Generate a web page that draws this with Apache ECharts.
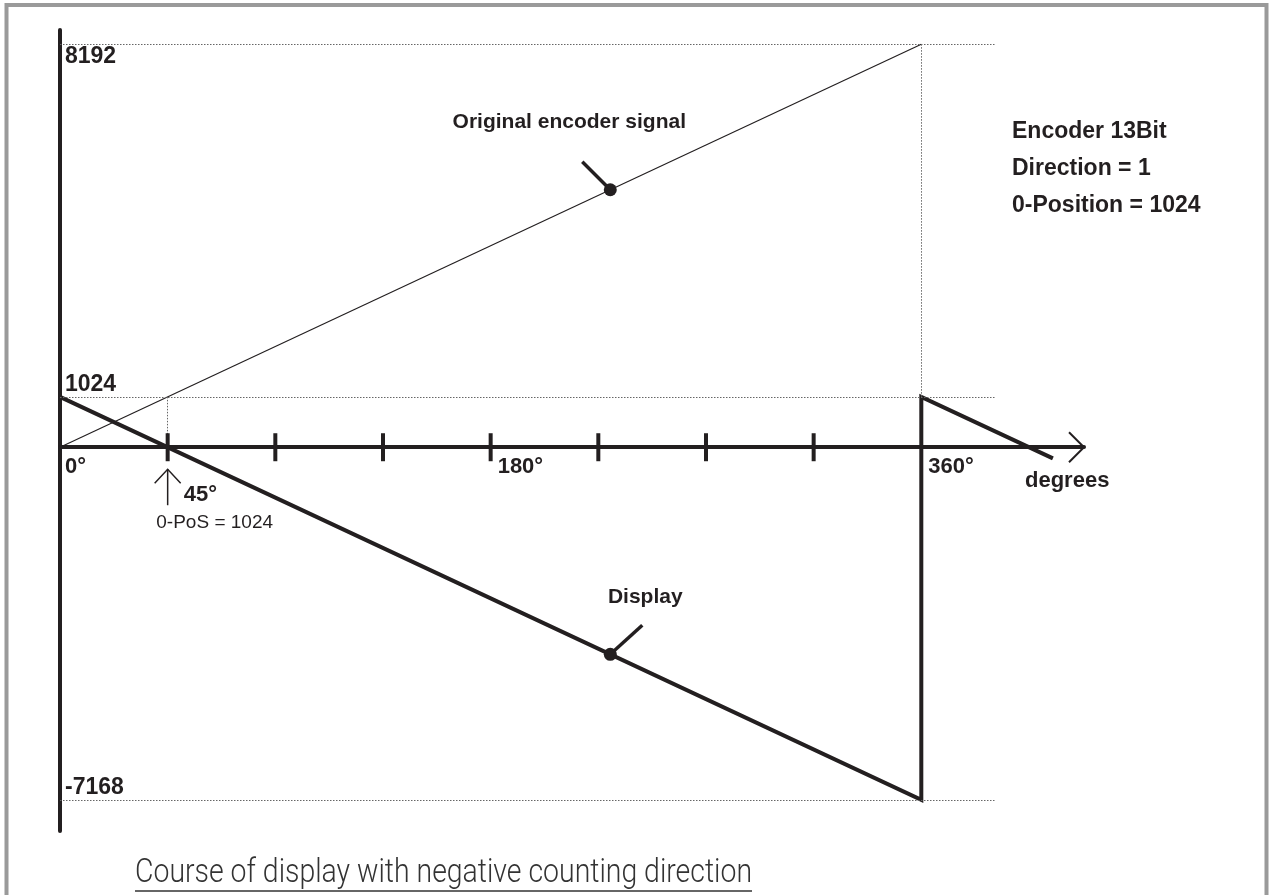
<!DOCTYPE html>
<html><head><meta charset="utf-8">
<script src="https://cdn.jsdelivr.net/npm/echarts@6/dist/echarts.min.js"></script>
<style>html,body{margin:0;padding:0;background:#fff}#c{width:1270px;height:895px}</style>
</head><body><div id="c"></div>
<script>
// ---- data ----
const originalSignal = [[0, 0], [360, 8192]];
const displayValues = [[0, 1024], [360, -7168], [360, 1024], [415, -227]];
const refLevels = [8192, 1024, -7168];
const refLabels = ['8192', '1024', '-7168'];
const guideEnd = 391;
const tickAngles = [45, 90, 135, 180, 225, 270, 315];
const labelAngles = [0, 180, 360];
const axisEnd = 428;
const markerPoints = [[230, 5233], [230, -4209]];
const seriesNames = ['Original encoder signal', 'Display'];
const zeroPos = [45, 0];
const zeroPosText = ['45°', '0-PoS = 1024'];
const infoLines = ['Encoder 13Bit', 'Direction = 1', '0-Position = 1024'];
const xName = 'degrees';
const caption = 'Course of display with negative counting direction';

const INK = '#231f20';
const FONT = '"Liberation Sans", Arial, sans-serif';

const chart = echarts.init(document.getElementById('c'), null, {renderer: 'canvas'});

const refMarks = refLevels.map((v, i) => [
  {coord: [0, v], label: {show: true, formatter: refLabels[i], position: i === 0 ? 'insideStartBottom' : 'insideStartTop'}},
  {coord: [guideEnd, v]}
]);
refMarks.push([{coord: [360, refLevels[0]]}, {coord: [360, refLevels[1]]}]);
refMarks.push([{coord: [zeroPos[0], refLevels[1]]}, {coord: [zeroPos[0], 0]}]);

// caption measure
const mc = document.createElement('canvas').getContext('2d');
mc.font = '300 34px Roboto';
const capW = mc.measureText(caption).width;
const capScale = 617 / capW;

const option = {
  animation: false,
  backgroundColor: '#fff',
  grid: {left: 60, right: 186, top: 30, bottom: 64},
  xAxis: {
    type: 'value', min: 0, max: axisEnd,
    axisLine: {show: true, onZero: true, lineStyle: {color: INK, width: 4}},
    axisTick: {show: false},
    splitLine: {show: false},
    axisLabel: {show: false}
  },
  yAxis: {
    type: 'value', min: -7800, max: 8480,
    axisLine: {show: true, onZero: false, lineStyle: {color: INK, width: 4}},
    axisTick: {show: false}, axisLabel: {show: false}, splitLine: {show: false}
  },
  series: [
    {
      name: seriesNames[0], type: 'line', data: originalSignal, symbol: 'none',
      lineStyle: {color: INK, width: 1.2}, z: 3,
      markLine: {
        silent: true, symbol: ['none', 'none'], animation: false,
        lineStyle: {color: '#666', width: 1, type: [1.5, 1.5]},
        label: {color: INK, fontFamily: FONT, fontWeight: 'bold', fontSize: 23, distance: [5, 1]},
        data: refMarks
      }
    },
    {
      name: seriesNames[1], type: 'line', data: displayValues, symbol: 'none',
      lineStyle: {color: INK, width: 4, join: 'miter'}, z: 4
    },
    {
      type: 'custom', data: tickAngles.map(a => [a, 0]), z: 5,
      renderItem: (params, api) => {
        const p = api.coord([api.value(0), api.value(1)]);
        return {type: 'line', shape: {x1: p[0], y1: p[1] - 14, x2: p[0], y2: p[1] + 14},
          style: {stroke: INK, lineWidth: 4}};
      }
    },
    {
      type: 'custom', data: labelAngles.map(a => [a, 0]), z: 5,
      renderItem: (params, api) => {
        const v = api.value(0);
        const p = api.coord([v, api.value(1)]);
        return {type: 'text', x: p[0] + (v === 0 ? 5 : 7), y: p[1] + 20,
          style: {text: v + '°', fill: INK, font: 'bold 22px ' + FONT, align: 'left', verticalAlign: 'middle'}};
      }
    },
    {
      type: 'custom', data: [[axisEnd, 0]], z: 5,
      renderItem: (params, api) => {
        const p = api.coord([api.value(0), api.value(1)]);
        return {type: 'polyline', shape: {points: [[p[0] - 15, p[1] - 15], [p[0], p[1]], [p[0] - 15, p[1] + 15]]},
          style: {stroke: INK, lineWidth: 2, fill: null}};
      }
    },
    {
      type: 'custom', data: markerPoints, z: 6,
      renderItem: (params, api) => {
        const p = api.coord([api.value(0), api.value(1)]);
        const i = params.dataIndex;
        const ptr = i === 0 ? [-28, -28] : [32, -29];
        const lab = i === 0 ? [-41, -68] : [35, -57];
        return {type: 'group', children: [
          {type: 'line', shape: {x1: p[0], y1: p[1], x2: p[0] + ptr[0], y2: p[1] + ptr[1]}, style: {stroke: INK, lineWidth: 3.5}},
          {type: 'circle', shape: {cx: p[0], cy: p[1], r: 6.5}, style: {fill: INK}},
          {type: 'text', x: p[0] + lab[0], y: p[1] + lab[1], style: {text: seriesNames[i], fill: INK,
            font: 'bold 21px ' + FONT, align: 'center', verticalAlign: 'middle'}}
        ]};
      }
    },
    {
      type: 'custom', data: [zeroPos], z: 6,
      renderItem: (params, api) => {
        const p = api.coord([api.value(0), api.value(1)]);
        const x = p[0], y = p[1];
        return {type: 'group', children: [
          {type: 'line', shape: {x1: x, y1: y + 22, x2: x, y2: y + 58}, style: {stroke: INK, lineWidth: 1.5}},
          {type: 'polyline', shape: {points: [[x - 13, y + 36], [x, y + 22], [x + 13, y + 36]]}, style: {stroke: INK, lineWidth: 1.5, fill: null}},
          {type: 'text', x: x + 16, y: y + 48, style: {text: zeroPosText[0], fill: INK, font: 'bold 22px ' + FONT, align: 'left', verticalAlign: 'middle'}},
          {type: 'text', x: x + 47, y: y + 76, style: {text: zeroPosText[1], fill: INK, font: '19px ' + FONT, align: 'center', verticalAlign: 'middle'}}
        ]};
      }
    }
  ],
  graphic: [
    {type: 'rect', shape: {x: 6.5, y: 5, width: 1260, height: 1000}, style: {fill: null, stroke: '#9a9a9a', lineWidth: 4}, silent: true},
    {type: 'text', left: 1012, top: 113, style: {text: infoLines.join('\n'), fill: INK, font: 'bold 23px ' + FONT, lineHeight: 37}},
    {type: 'text', left: 1025, top: 470, style: {text: xName, fill: INK, font: 'bold 22px ' + FONT}},
    {type: 'text', x: 135, y: 873, scaleX: capScale, style: {text: caption, fill: '#333', font: '300 34px Roboto', verticalAlign: 'middle'}},
    {type: 'line', shape: {x1: 135, y1: 891, x2: 752, y2: 891}, style: {stroke: '#333', lineWidth: 1.5}}
  ]
};
chart.setOption(option);
</script>
</body></html>
